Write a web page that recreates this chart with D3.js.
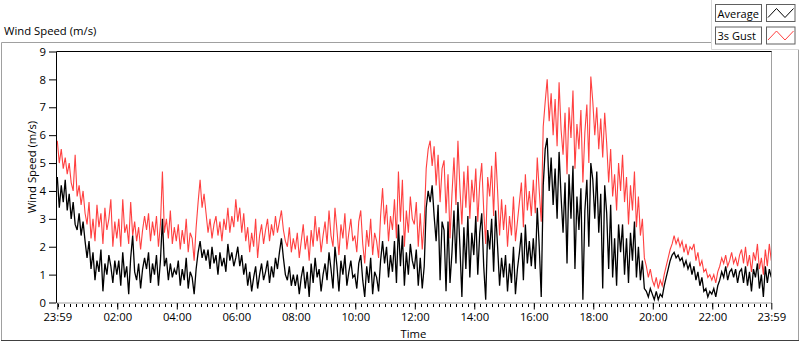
<!DOCTYPE html>
<html><head><meta charset="utf-8">
<script src="https://cdn.jsdelivr.net/npm/d3@7"></script>
<style>
body{margin:0;background:#fff;}
svg text{font-family:"Open Sans","Noto Sans",sans-serif;font-size:11.3px;fill:#000;}
</style>
</head><body>
<svg id="chart" width="800" height="342"></svg>
<script>
// ---- data ----
const startTime = "2020-01-01T23:59";
const endTime = "2020-01-02T23:59";
const stepMinutes = 4;
const seriesNames = ["Average", "3s Gust"];
const avgValues = [
4.5,3.4,4.2,3.6,4.4,3.3,3.9,3.0,3.6,2.8,2.6,3.2,2.4,2.9,2.2,
1.6,2.2,1.2,1.8,0.8,1.5,1.1,1.9,0.4,1.4,1.0,1.7,1.3,0.7,1.5,
1.0,1.5,0.6,1.8,0.9,1.3,0.3,1.6,2.4,1.1,0.8,1.4,0.5,1.2,1.6,
1.2,1.8,0.7,1.4,1.0,1.7,0.6,1.5,3.0,1.3,1.6,0.8,1.4,0.9,1.2,
1.0,1.5,0.6,1.2,0.8,1.6,0.5,1.1,0.9,0.3,1.2,1.8,2.2,1.6,1.9,
1.5,1.9,1.2,2.0,1.4,1.7,1.0,1.8,1.3,1.6,1.1,2.1,1.5,1.8,1.3,
1.6,2.0,1.3,1.7,1.0,1.4,0.6,1.1,0.4,0.9,1.3,0.5,1.0,1.4,0.8,
1.1,1.5,0.7,1.3,0.9,1.6,1.2,1.8,2.3,1.6,1.0,0.8,1.3,0.6,1.0,
0.6,1.0,0.3,0.9,1.3,0.5,1.1,0.2,1.4,0.7,1.6,0.9,1.2,0.4,1.0,
1.4,0.8,1.8,1.2,0.5,2.0,1.3,0.4,1.5,1.0,1.7,0.6,1.1,1.5,0.9,
1.0,0.5,1.4,1.7,0.8,0.2,1.3,0.7,1.6,0.3,1.1,0.9,0.4,1.5,2.2,
1.4,2.0,0.9,1.7,1.1,2.2,0.7,2.8,1.3,2.4,0.6,1.8,1.0,2.1,1.5,
1.2,1.9,0.6,1.6,0.5,1.3,3.4,4.0,3.6,4.2,3.1,2.2,3.5,0.8,2.9,
2.6,0.4,2.9,0.7,1.8,3.3,1.4,3.6,2.0,0.2,2.7,1.2,3.1,0.9,2.5,
1.7,3.1,1.0,2.5,3.2,1.3,0.1,2.6,1.9,3.0,1.1,3.3,2.0,0.6,1.6,
0.9,1.7,0.4,1.4,0.7,2.0,0.3,1.2,1.8,2.5,0.8,2.8,1.4,2.2,1.3,
2.3,1.2,3.4,2.0,0.2,4.2,5.5,5.9,4.0,5.2,3.5,4.8,3.0,5.4,3.8,
2.5,4.3,1.4,4.6,3.0,4.9,1.2,3.8,2.6,4.1,0.1,3.3,4.4,2.0,5.0,
4.4,3.0,4.7,2.5,3.9,0.5,4.2,3.2,1.2,3.5,0.9,2.3,0.6,2.8,1.8,
2.8,1.0,2.3,0.7,2.5,1.5,2.9,0.9,2.0,0.8,1.5,0.5,0.4,0.2,0.5,
0.3,0.1,0.4,0.1,0.3,0.2,0.6,0.9,1.2,1.5,1.7,1.8,1.6,1.7,1.5,
1.6,1.3,1.5,1.2,1.4,1.0,1.3,0.8,1.1,0.6,0.9,0.4,0.5,0.2,0.4,
0.3,0.5,0.2,0.6,0.8,1.1,0.9,1.3,0.8,1.1,1.2,0.9,1.2,0.7,1.1,
1.2,0.7,1.3,0.6,1.1,0.4,1.2,0.9,1.4,0.5,1.0,0.2,1.3,0.7,1.2,
0.9];
const gustValues = [
5.8,5.0,5.5,4.8,5.2,4.6,5.0,4.3,4.0,5.3,3.8,4.2,3.5,4.0,3.2,
2.8,3.6,2.3,3.0,2.2,3.5,2.7,3.2,2.1,3.4,2.6,3.0,3.7,2.0,2.9,
2.3,3.0,2.0,3.7,2.5,2.8,2.1,3.6,2.4,2.9,2.2,2.7,1.9,2.6,3.1,
2.6,3.2,2.2,2.9,2.4,3.1,2.0,2.8,4.7,2.5,3.0,2.3,3.3,2.1,2.7,
2.2,2.8,1.9,2.6,2.1,3.0,1.8,2.5,2.3,1.5,2.7,3.6,4.4,3.4,3.9,
3.2,2.5,3.0,2.3,2.8,3.1,2.4,2.9,2.2,3.0,2.6,3.4,2.5,3.1,2.7,
3.7,2.9,3.4,2.5,3.2,2.2,2.7,1.8,2.5,2.0,3.0,1.6,2.4,2.8,2.1,
2.6,3.0,2.2,2.8,2.4,3.1,2.5,2.9,3.3,2.6,2.2,2.0,2.7,1.8,2.3,
1.9,2.5,1.6,2.2,2.8,1.9,2.4,1.5,2.6,2.0,3.1,2.2,2.7,1.8,2.4,
2.9,2.1,3.3,2.4,2.0,3.4,2.6,1.7,2.8,2.3,3.2,1.9,2.5,3.0,2.2,
2.4,1.8,2.9,3.3,2.1,1.4,2.6,2.0,3.0,1.7,2.5,2.2,1.6,3.1,4.1,
2.8,3.5,2.2,3.1,2.6,3.7,2.3,4.7,2.9,4.4,2.0,3.3,2.5,3.8,3.0,
2.8,3.6,2.0,3.2,1.9,2.9,4.8,5.5,5.8,4.9,5.6,4.2,5.3,3.6,4.8,
5.1,3.2,4.6,2.3,3.9,5.2,3.5,5.8,4.1,2.8,4.7,3.4,4.9,3.0,4.4,
3.6,4.8,2.9,4.3,5.0,3.3,2.1,4.5,3.8,4.9,3.1,5.4,4.0,2.4,3.7,
2.6,3.5,2.0,3.1,2.4,3.8,2.2,2.9,3.6,4.3,2.7,4.6,3.3,4.0,3.1,
4.4,3.2,5.2,4.0,2.9,6.3,7.2,8.0,6.5,7.5,6.0,7.3,5.6,7.9,6.2,
5.3,6.8,4.6,7.0,5.9,7.6,4.8,6.4,5.5,6.9,4.3,6.1,7.1,5.0,8.1,
7.2,6.0,7.0,5.5,6.6,5.2,6.8,5.7,4.3,5.5,3.8,4.6,3.3,5.0,4.0,
5.3,3.6,4.5,2.8,4.2,3.3,4.7,2.7,3.8,2.4,3.0,1.6,1.3,0.9,1.2,
0.8,0.6,0.9,0.5,0.8,0.6,1.0,1.3,1.6,1.9,2.1,2.4,2.1,2.3,2.0,
2.2,1.8,2.1,1.7,2.0,1.9,2.1,1.5,1.8,1.3,1.5,1.1,1.2,0.9,1.0,
0.8,1.0,0.7,1.1,1.3,1.6,1.4,1.7,1.3,1.5,1.8,1.4,1.6,1.3,1.7,
1.9,1.4,2.0,1.3,1.7,1.1,1.8,1.5,2.1,1.2,1.6,1.0,1.9,1.3,2.1,
1.5];
const xTickTimes = ["2020-01-01T23:59","2020-01-02T02:00","2020-01-02T04:00","2020-01-02T06:00",
  "2020-01-02T08:00","2020-01-02T10:00","2020-01-02T12:00","2020-01-02T14:00","2020-01-02T16:00",
  "2020-01-02T18:00","2020-01-02T20:00","2020-01-02T22:00","2020-01-02T23:59"];
const yTickValues = [0,1,2,3,4,5,6,7,8,9];
const colors = ["#000000", "#ff4040"];

// ---- layout ----
const FONT = '"Open Sans","Noto Sans",sans-serif';
const svg = d3.select("#chart");
const L = 56.5, R = 771.5, T = 51.5, B = 302.5;
const parse = d3.timeParse("%Y-%m-%dT%H:%M");
const t0 = parse(startTime), t1 = parse(endTime);
const x = d3.scaleTime().domain([t0, t1]).range([L + 0.8, R - 0.2]);
const y = d3.scaleLinear().domain([0, 9]).range([B, T]);

// outer panel frame
svg.append("path").attr("d", "M711,42.5 H1.5 V340.5 H798.5 V49")
  .attr("fill", "none").attr("stroke", "#a0a0a0");
svg.append("line").attr("x1", 1).attr("x2", 799).attr("y1", 340.5).attr("y2", 340.5).attr("stroke", "#404040");
svg.append("path").attr("d", "M711.5,0 V49.5 H799").attr("fill", "none").attr("stroke", "#d8d8d8");

// title
svg.append("text").attr("x", 4).attr("y", 35).text("Wind Speed (m/s)");

// plot background
svg.append("rect").attr("x", L).attr("y", T).attr("width", R - L).attr("height", B - T).attr("fill", "#fff");

const data = gustValues.map((g, i) => ({t: d3.timeMinute.offset(t0, i * stepMinutes), avg: avgValues[i], gust: g}));

const lineG = d3.line().x(d => x(d.t)).y(d => y(d.gust));
const lineA = d3.line().x(d => x(d.t)).y(d => y(d.avg));
svg.append("path").datum(data).attr("d", lineG).attr("fill", "none").attr("stroke", colors[1]).attr("stroke-width", 1.1);
svg.append("path").datum(data).attr("d", lineA).attr("fill", "none").attr("stroke", colors[0]).attr("stroke-width", 1.3);

// plot border
svg.append("line").attr("x1", L).attr("x2", R + 0.5).attr("y1", T).attr("y2", T).attr("stroke", "#000");
svg.append("line").attr("x1", L).attr("x2", L).attr("y1", T).attr("y2", B + 0.5).attr("stroke", "#000");
svg.append("line").attr("x1", L).attr("x2", R).attr("y1", B + 0.5).attr("y2", B + 0.5).attr("stroke", "#a0a0a0");
svg.append("line").attr("x1", R).attr("x2", R).attr("y1", T).attr("y2", B + 1).attr("stroke", "#a0a0a0");

// y axis
const yAxis = d3.axisLeft(y).tickValues(yTickValues).tickSize(7).tickPadding(3).tickFormat(d3.format("d"));
const gy = svg.append("g").attr("transform", `translate(${L - 0.5},0)`).call(yAxis);
gy.select(".domain").remove();
gy.selectAll("text").style("font-family", FONT).style("font-size", "11.3px").attr("fill", "#000");
gy.selectAll("line").attr("stroke", "#000");

// x axis minor ticks
const minorTicks = d3.timeMinute.every(12).range(d3.timeMinute.offset(t0, 1), t1);
svg.append("g").selectAll("line").data(minorTicks).join("line")
  .attr("x1", d => Math.round(x(d)) + 0.5).attr("x2", d => Math.round(x(d)) + 0.5)
  .attr("y1", B + 1.5).attr("y2", B + 4.5).attr("stroke", "#000");
// x axis major ticks
const majors = xTickTimes.map(parse);
const xAxis = d3.axisBottom(x).tickValues(majors).tickSize(6.5).tickPadding(3.5).tickFormat(d3.timeFormat("%H:%M"));
const gx = svg.append("g").attr("transform", `translate(0,${B + 0.5})`).call(xAxis);
gx.select(".domain").remove();
gx.selectAll("text").style("font-family", FONT).style("font-size", "11.3px").attr("fill", "#000");
gx.selectAll("line").attr("stroke", "#000");

// axis titles
svg.append("text").attr("x", 413.5).attr("y", 338).attr("text-anchor", "middle").text("Time");
svg.append("text").attr("transform", "translate(36,167) rotate(-90)").attr("text-anchor", "middle").text("Wind Speed (m/s)");

// legend
const leg = svg.append("g");
seriesNames.forEach((name, i) => {
  const yy = 4.5 + i * 22.5;
  leg.append("rect").attr("x", 715.5).attr("y", yy).attr("width", 46).attr("height", 17)
    .attr("fill", "#fff").attr("stroke", "#606060");
  leg.append("text").attr("x", 717.5).attr("y", yy + 13).style("font-size", "11px").text(name);
  leg.append("rect").attr("x", 766.5).attr("y", yy).attr("width", 28.5).attr("height", 17)
    .attr("fill", "#fff").attr("stroke", "#606060");
  leg.append("path").attr("d", `M768,${yy + 13} L776.5,${yy + 4} L785,${yy + 13} L793.5,${yy + 4}`)
    .attr("fill", "none").attr("stroke", colors[i]);
});
</script>
</body></html>
